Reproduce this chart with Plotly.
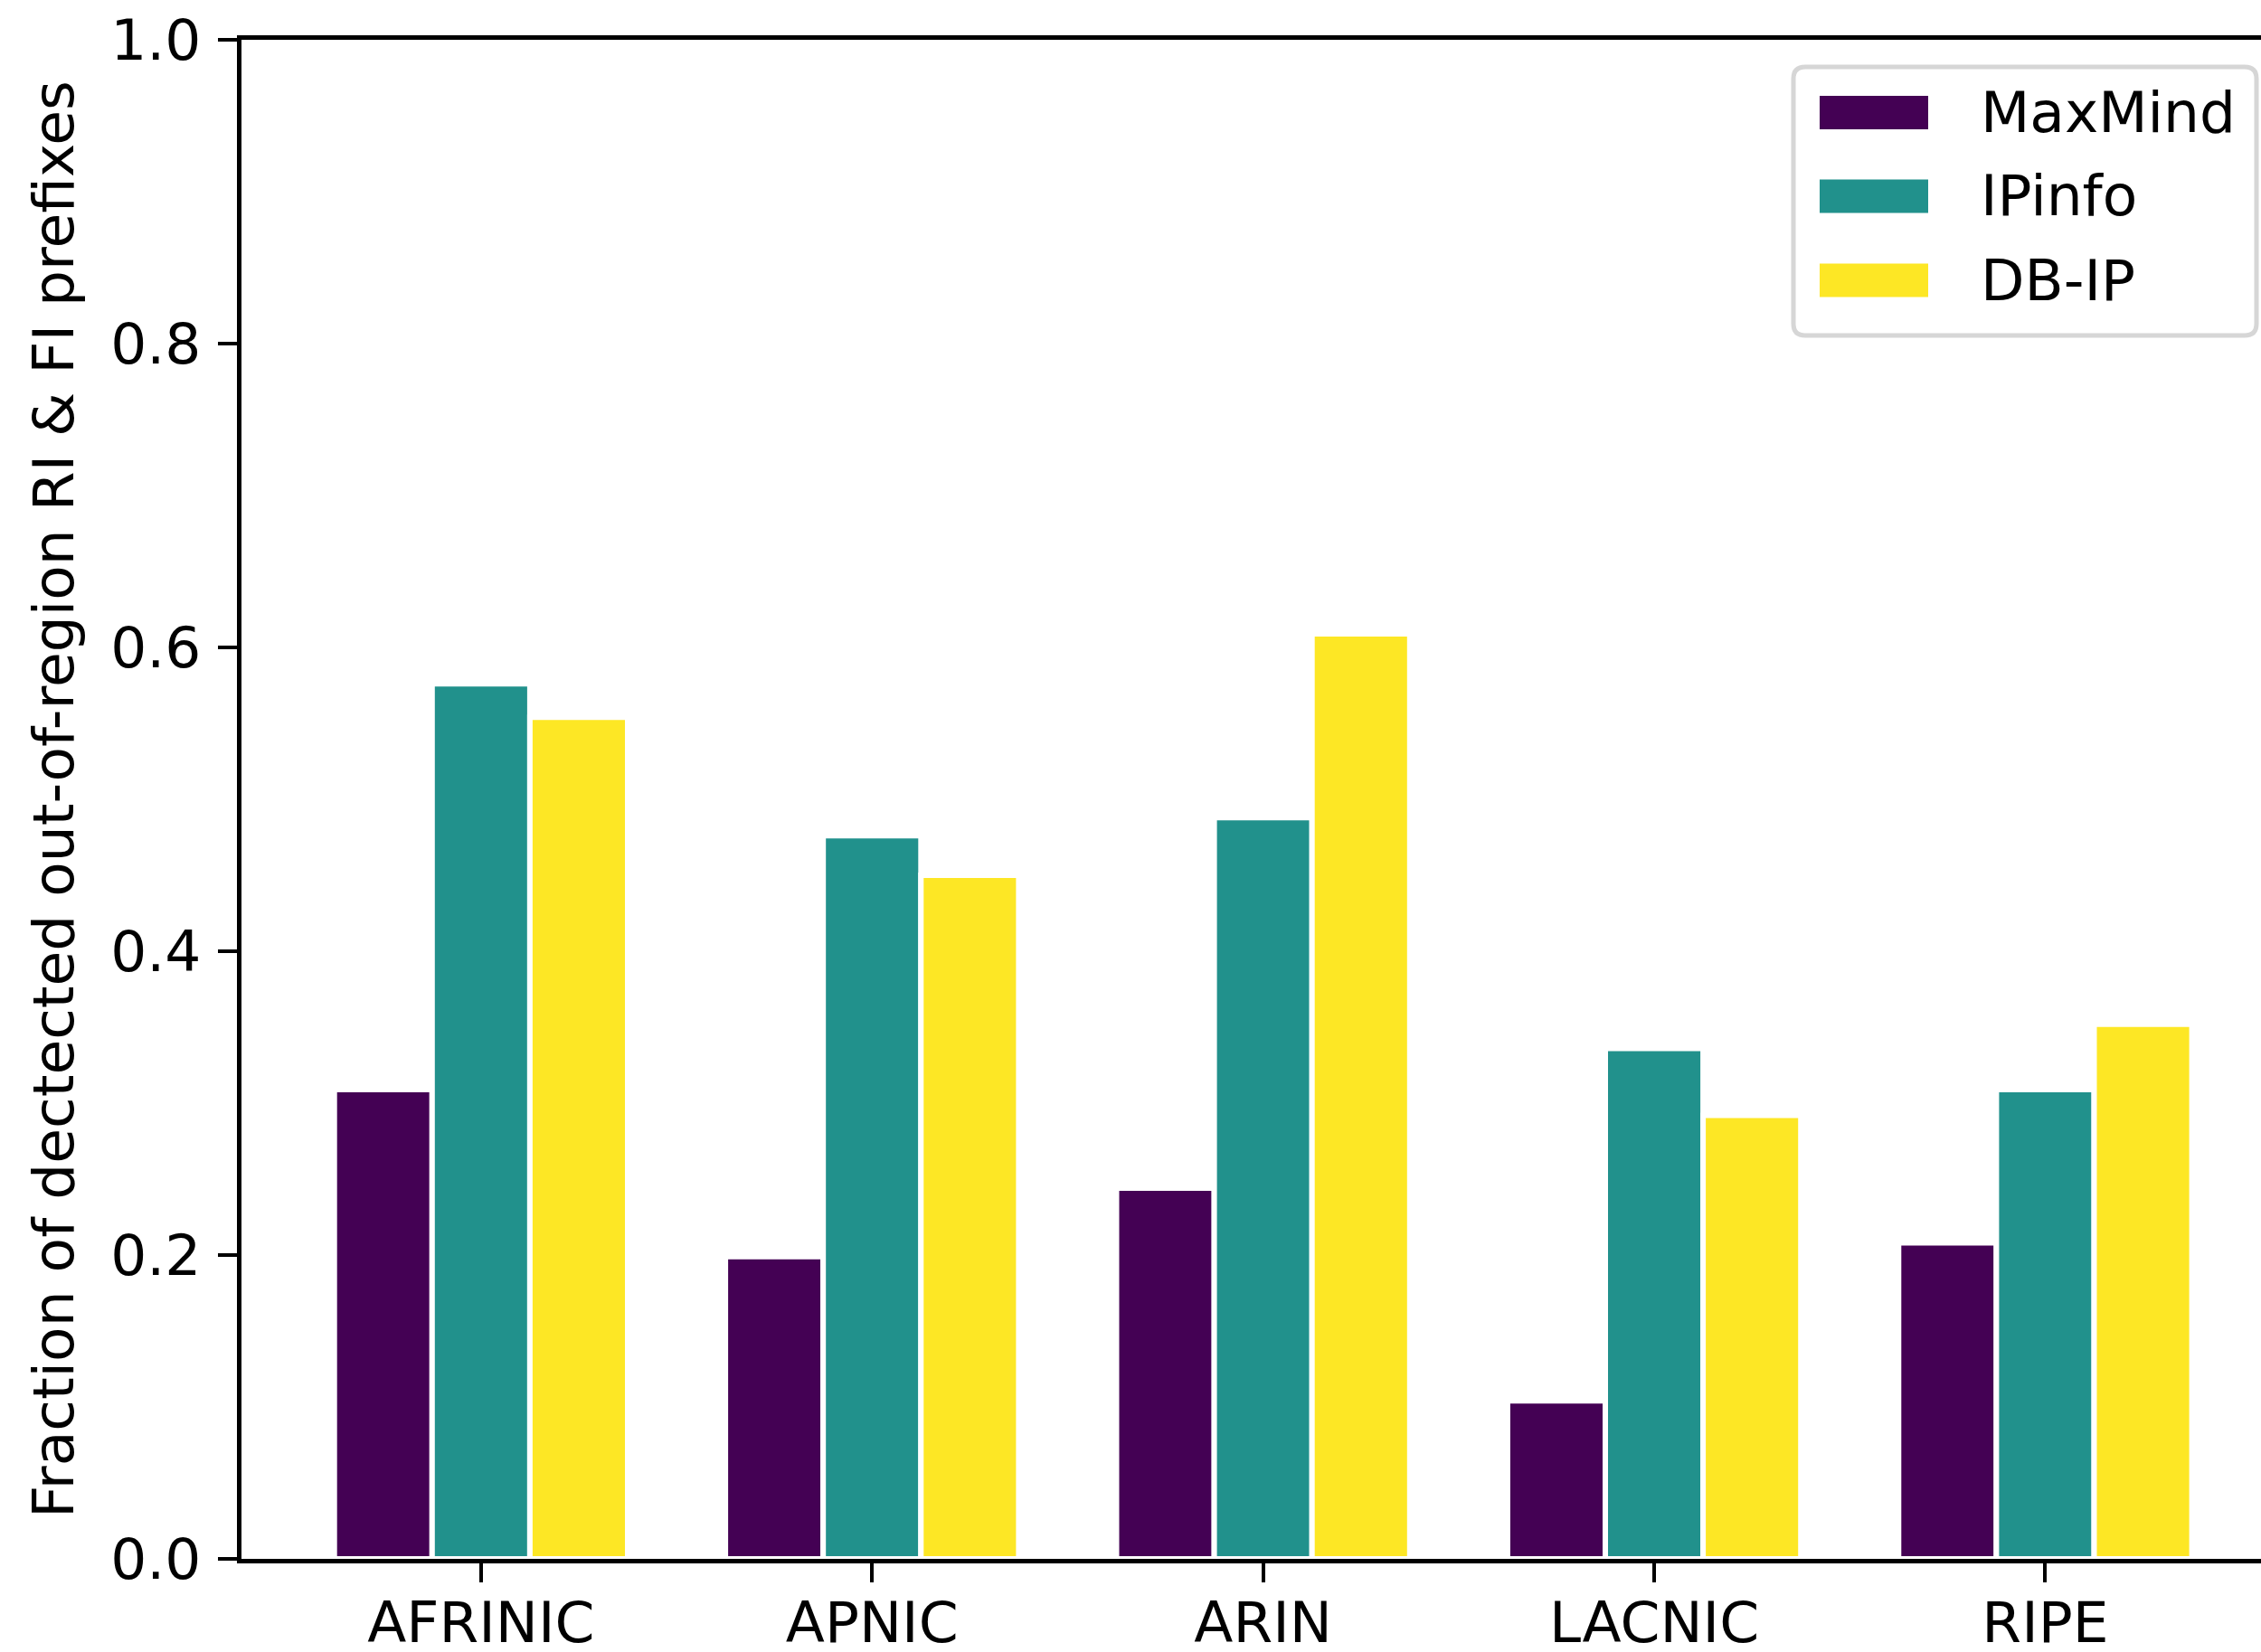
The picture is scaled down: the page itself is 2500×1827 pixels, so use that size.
import plotly.graph_objects as go

categories = ["AFRINIC", "APNIC", "ARIN", "LACNIC", "RIPE"]
series_names = ["MaxMind", "IPinfo", "DB-IP"]
maxmind = [0.309, 0.199, 0.244, 0.104, 0.208]
ipinfo = [0.576, 0.476, 0.488, 0.336, 0.309]
dbip = [0.554, 0.450, 0.609, 0.292, 0.352]
colors = ["#440154", "#21918c", "#fde725"]
y_ticks = [0.0, 0.2, 0.4, 0.6, 0.8, 1.0]
y_tick_labels = ["0.0", "0.2", "0.4", "0.6", "0.8", "1.0"]
y_title = "Fraction of dectected out-of-region RI & FI prefixes"

W, H = 2500, 1827
L, R, T, B = 267, 0, 44, 103
PW = W - L - R
PH = H - T - B
FONT = "DejaVu Sans"
FS = 63

fig = go.Figure()
for name, vals, col in zip(series_names, [maxmind, ipinfo, dbip], colors):
    fig.add_trace(go.Bar(
        x=list(range(len(categories))), y=vals, name=name,
        marker=dict(color=col, line=dict(color="white", width=6)),
        showlegend=False,
    ))

cat_px = 432.4
x0 = -0.6125
x1 = x0 + PW / cat_px

def px(x):
    return (x - L) / PW

def py(y):
    return (H - B - y) / PH

# legend frame (rounded)
lx0, lx1, ly0, ly1 = 1983, 2495, 74, 371
r = 13
rx, ry = r / PW, r / PH
X0, X1, Y0, Y1 = px(lx0), px(lx1), py(ly1), py(ly0)
path = (f"M{X0+rx},{Y0} L{X1-rx},{Y0} Q{X1},{Y0} {X1},{Y0+ry} "
        f"L{X1},{Y1-ry} Q{X1},{Y1} {X1-rx},{Y1} L{X0+rx},{Y1} "
        f"Q{X0},{Y1} {X0},{Y1-ry} L{X0},{Y0+ry} Q{X0},{Y0} {X0+rx},{Y0} Z")
shapes = [dict(type="path", path=path, xref="paper", yref="paper",
               fillcolor="white", line=dict(color="#d6d6d6", width=5), layer="above")]
annotations = []
row_centers = [124.5, 217, 310]
for name, col, yc in zip(series_names, colors, row_centers):
    shapes.append(dict(type="rect", xref="paper", yref="paper",
                       x0=px(2012), x1=px(2132), y0=py(yc + 18.5), y1=py(yc - 18.5),
                       fillcolor=col, line=dict(width=0), layer="above"))
    annotations.append(dict(text=name, xref="paper", yref="paper",
                            x=px(2188), y=py(yc), xanchor="left", yanchor="middle",
                            showarrow=False, font=dict(family=FONT, size=FS, color="black")))

fig.update_layout(
    width=W, height=H, autosize=False,
    margin=dict(l=L, r=R, t=T, b=B, pad=0),
    paper_bgcolor="white", plot_bgcolor="white",
    barmode="group", bargap=0.25, bargroupgap=0,
    font=dict(family=FONT, size=FS, color="black"),
    shapes=shapes, annotations=annotations,
    showlegend=False,
)
fig.update_xaxes(
    range=[x0, x1], tickmode="array", tickvals=list(range(len(categories))),
    ticktext=categories, showline=True, linecolor="black", linewidth=5,
    mirror=True, ticks="outside", ticklen=21, tickwidth=4, tickcolor="black",
    showgrid=False, zeroline=False, tickfont=dict(family=FONT, size=FS),
    ticklabelstandoff=-10, automargin=False,
)
fig.update_yaxes(
    range=[0, 1], tickmode="array", tickvals=y_ticks, ticktext=y_tick_labels,
    showline=True, linecolor="black", linewidth=5,
    ticks="outside", ticklen=21, tickwidth=4, tickcolor="black",
    showgrid=False, zeroline=False, tickfont=dict(family=FONT, size=FS),
    ticklabelstandoff=6, automargin=False,
    title=dict(text=y_title, font=dict(family=FONT, size=FS), standoff=22),
)

fig.write_html("out.html", config={"displayModeBar": False},
               post_script="document.body.style.margin='0';")
